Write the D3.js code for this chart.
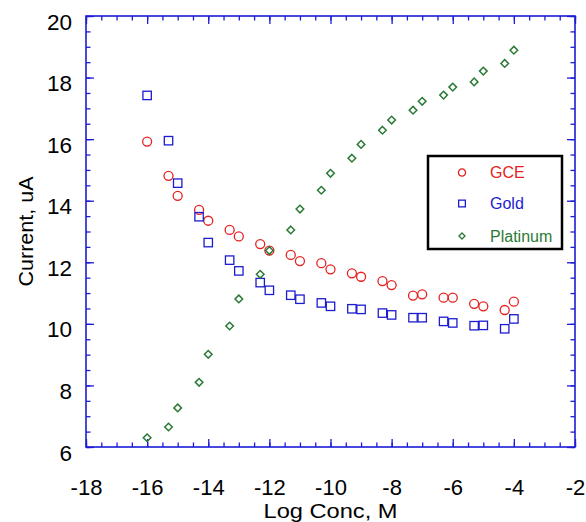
<!DOCTYPE html>
<html>
<head>
<meta charset="utf-8">
<script src="https://cdn.jsdelivr.net/npm/d3@7"></script>
<style>
  body { margin: 0; background: #fff; }
</style>
</head>
<body>
<div id="chart"></div>
<script>
// data
var logConc = [-16, -15.3, -15, -14.3, -14, -13.3, -13, -12.3, -12, -11.3, -11, -10.3, -10,
               -9.3, -9, -8.3, -8, -7.3, -7, -6.3, -6, -5.3, -5, -4.3, -4];
var gce = [15.92, 14.81, 14.16, 13.70, 13.35, 13.05, 12.84, 12.59, 12.38, 12.24, 12.04, 11.97, 11.77,
           11.64, 11.53, 11.39, 11.26, 10.92, 10.96, 10.85, 10.85, 10.65, 10.57, 10.45, 10.72];
var gold = [17.42, 15.95, 14.57, 13.48, 12.64, 12.07, 11.72, 11.34, 11.09, 10.93, 10.80, 10.68, 10.57,
            10.49, 10.47, 10.35, 10.29, 10.20, 10.20, 10.08, 10.03, 9.94, 9.95, 9.84, 10.16];
var platinum = [6.30, 6.65, 7.27, 8.10, 9.01, 9.93, 10.81, 11.61, 12.38, 13.05, 13.73, 14.34, 14.89,
                15.38, 15.83, 16.29, 16.62, 16.94, 17.23, 17.43, 17.69, 17.86, 18.21, 18.46, 18.89];
var seriesNames = ['GCE', 'Gold', 'Platinum'];
var xTicks = [-18, -16, -14, -12, -10, -8, -6, -4, -2];
var yTicks = [6, 8, 10, 12, 14, 16, 18, 20];

var attrs = {
    svgWidth: 586,
    svgHeight: 522,
    left: 86,
    right: 575,
    top: 16,
    bottom: 447,
    axisColor: '#1c1cd6',
    font: 'Arial, "Liberation Sans", sans-serif',
    colors: { GCE: '#e52222', Gold: '#1c1cd0', Platinum: '#2b7a36' }
};

var svg = d3.select('#chart').append('svg')
    .attr('width', attrs.svgWidth)
    .attr('height', attrs.svgHeight)
    .attr('font-family', attrs.font);

var x = d3.scaleLinear().domain([-18, -2]).range([attrs.left, attrs.right]);
var y = d3.scaleLinear().domain([6, 20]).range([attrs.bottom, attrs.top]);

var minorX = d3.range(-18, -1.99, 0.5);
var minorY = d3.range(6, 20.01, 0.5);
var plainFormat = function (d) { return String(d); };  // hyphen, not unicode minus

// axes: ticks point inward, labels on bottom / left only
function drawAxis(axis, tx, ty, labels) {
    var g = svg.append('g')
        .attr('transform', 'translate(' + tx + ',' + ty + ')')
        .call(axis);
    g.select('.domain').remove();
    g.selectAll('line').attr('stroke', attrs.axisColor).attr('stroke-width', 1.3);
    if (!labels) g.selectAll('text').remove();
    return g;
}

drawAxis(d3.axisBottom(x).tickValues(minorX).tickSize(-4.5).tickFormat(''), 0, attrs.bottom, false);
drawAxis(d3.axisTop(x).tickValues(minorX).tickSize(-4.5).tickFormat(''), 0, attrs.top, false);
drawAxis(d3.axisLeft(y).tickValues(minorY).tickSize(-4.5).tickFormat(''), attrs.left, 0, false);
drawAxis(d3.axisRight(y).tickValues(minorY).tickSize(-4.5).tickFormat(''), attrs.right, 0, false);
drawAxis(d3.axisTop(x).tickValues(xTicks).tickSize(-8), 0, attrs.top, false);
drawAxis(d3.axisRight(y).tickValues(yTicks).tickSize(-8), attrs.right, 0, false);

var xg = drawAxis(d3.axisBottom(x).tickValues(xTicks).tickSize(-8).tickPadding(32.4).tickFormat(plainFormat), 0, attrs.bottom, true);
xg.selectAll('text').attr('font-size', 22).attr('fill', '#000').attr('font-family', attrs.font);

var yg = drawAxis(d3.axisLeft(y).tickValues(yTicks).tickSize(-8).tickPadding(14).tickFormat(plainFormat), attrs.left, 0, true);
yg.selectAll('text').attr('font-size', 22.5).attr('fill', '#000').attr('dy', '0.58em').attr('font-family', attrs.font);

// frame
svg.append('rect')
    .attr('x', attrs.left).attr('y', attrs.top)
    .attr('width', attrs.right - attrs.left)
    .attr('height', attrs.bottom - attrs.top)
    .attr('fill', 'none')
    .attr('stroke', attrs.axisColor)
    .attr('stroke-width', 1.6);

// axis titles
svg.append('text')
    .attr('x', (attrs.left + attrs.right) / 2)
    .attr('y', 517.5)
    .attr('text-anchor', 'middle')
    .attr('font-size', 20)
    .attr('textLength', 134)
    .attr('lengthAdjust', 'spacingAndGlyphs')
    .text('Log Conc, M');

svg.append('text')
    .attr('transform', 'translate(33,' + ((attrs.top + attrs.bottom) / 2) + ') rotate(-90)')
    .attr('text-anchor', 'middle')
    .attr('font-size', 21)
    .attr('textLength', 110)
    .attr('lengthAdjust', 'spacingAndGlyphs')
    .text('Current, uA');

// markers
var symbols = {
    GCE: function (g, s) {
        return g.append('circle').attr('r', 4.5 * s);
    },
    Gold: function (g, s) {
        var h = 4.2 * s;
        return g.append('rect').attr('x', -h).attr('y', -h).attr('width', 2 * h).attr('height', 2 * h);
    },
    Platinum: function (g, s) {
        var h = 3.8 * s;
        return g.append('path').attr('d', 'M0,' + (-h) + 'L' + h + ',0L0,' + h + 'L' + (-h) + ',0Z');
    }
};

var seriesData = { GCE: gce, Gold: gold, Platinum: platinum };

seriesNames.forEach(function (name) {
    var g = svg.append('g').attr('class', 'series-' + name);
    seriesData[name].forEach(function (v, i) {
        var pt = g.append('g').attr('transform', 'translate(' + x(logConc[i]) + ',' + y(v) + ')');
        symbols[name](pt, 1)
            .attr('fill', 'none')
            .attr('stroke', attrs.colors[name])
            .attr('stroke-width', name === 'Platinum' ? 1.5 : 1.3);
    });
});

// legend
var legend = svg.append('g');
legend.append('rect')
    .attr('x', 428).attr('y', 156)
    .attr('width', 134).attr('height', 93)
    .attr('fill', '#fff')
    .attr('stroke', '#000')
    .attr('stroke-width', 2.5);

var legendY = [172.5, 203.5, 236];
seriesNames.forEach(function (name, i) {
    var pt = legend.append('g').attr('transform', 'translate(462,' + legendY[i] + ')');
    symbols[name](pt, 0.8)
        .attr('fill', 'none')
        .attr('stroke', attrs.colors[name])
        .attr('stroke-width', 1.3);
    legend.append('text')
        .attr('x', 490)
        .attr('y', legendY[i])
        .attr('dy', '0.36em')
        .attr('font-size', 16)
        .attr('fill', attrs.colors[name])
        .text(name);
});
</script>
</body>
</html>
